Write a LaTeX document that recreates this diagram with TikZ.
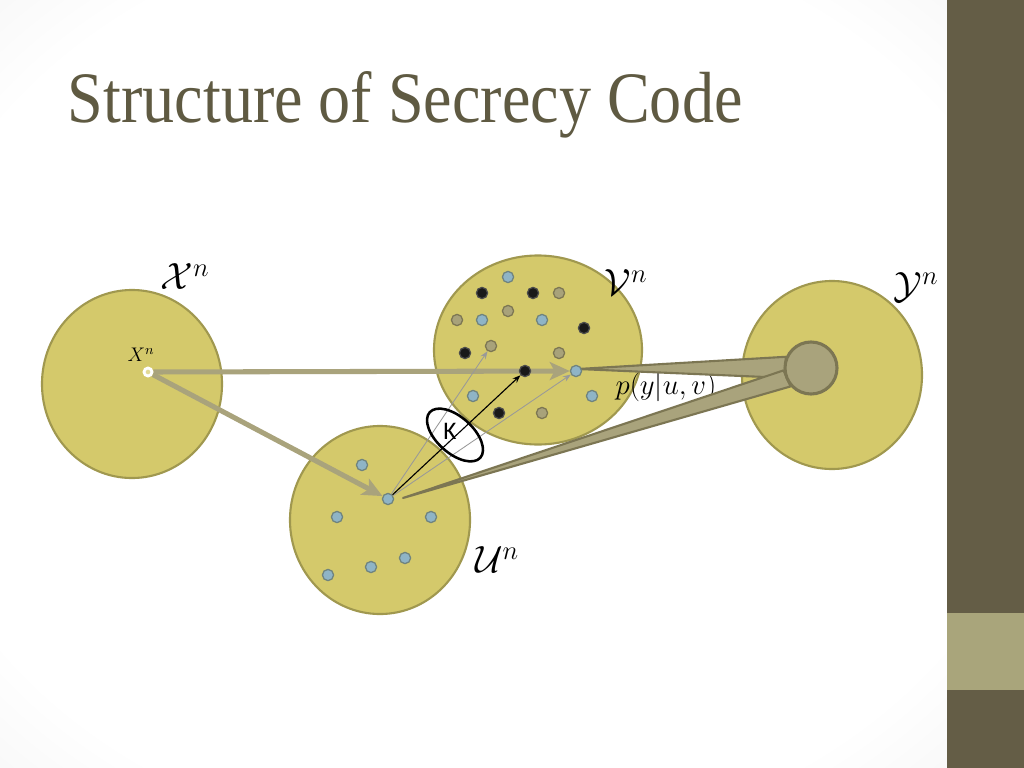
\RequirePackage{fix-cm}
\documentclass[tikz,border=0pt]{standalone}
\usepackage{fontspec}
\newfontfamily\titlefont[FakeStretch=0.885]{Liberation Serif}
\newfontfamily\kfont{Carlito}
\usepackage{tikz}
\usetikzlibrary{arrows.meta,shapes.geometric}

\definecolor{setfill}{HTML}{D4C96B}
\definecolor{setedge}{HTML}{A0984F}
\definecolor{chanfill}{HTML}{A9A37C}
\definecolor{chanedge}{HTML}{7C7653}
\definecolor{dotblue}{HTML}{8FB4C6}
\definecolor{dotgray}{HTML}{A8A27A}
\definecolor{dotrim}{HTML}{6F837E}
\definecolor{titlecol}{HTML}{5F5A42}
\definecolor{sidebar}{HTML}{645D46}
\definecolor{sideband}{HTML}{A9A57B}

\pgfdeclareradialshading{vignette}{\pgfpoint{0bp}{0bp}}{color(0bp)=(white); color(30bp)=(white); color(50bp)=(black!9); color(72bp)=(black!16)}
\pgfdeclarelayer{back}
\pgfdeclarelayer{mid}
\pgfsetlayers{back,mid,main}

\begin{document}
\begin{tikzpicture}[x=0.025cm, y=-0.025cm,
  setbox/.style={ellipse, draw=setedge, fill=setfill, line width=1.5pt, inner sep=0pt},
  setname/.style={font=\fontsize{27pt}{30pt}\selectfont},
  dot/.style={circle, line width=0.9pt, minimum size=0.28cm, inner sep=0pt},
  bluedot/.style={dot, draw=dotrim, fill=dotblue},
  graydot/.style={dot, draw=chanedge, fill=dotgray},
  blackdot/.style={dot, draw=black!70, fill=black!90},
  feed/.style={draw=chanfill, line width=3.6pt, -{Stealth[length=0.5cm, width=0.45cm, inset=0.12cm]}},
  channel/.style={fill=chanfill, draw=chanedge, line width=1.5pt, line join=round},
  thinarrow/.style={draw=black!40, line width=0.6pt, -{Stealth[length=0.2cm, width=0.15cm]}}]
\useasboundingbox (0,0) rectangle (1024,768);

\begin{pgfonlayer}{back}
  \shade[shading=vignette] (0,0) rectangle (947,768);
  \fill[sidebar] (947,0) rectangle (1024,768);
  \fill[sideband] (947,613) rectangle (1024,690);
  % the four sets
  \node[setbox, minimum width=4.5cm, minimum height=4.7cm] (xset) at (132,384) {};
  \node[setbox, minimum width=5.2cm, minimum height=4.725cm] (vset) at (538,350) {};
  \node[setbox, minimum width=4.5cm, minimum height=4.7cm] (uset) at (380,520) {};
  \node[setbox, minimum width=4.5cm, minimum height=4.7cm] (yset) at (832,375) {};
  \node[font=\fontsize{20.5pt}{23pt}\selectfont] (chan) at (666,387) {$p(y|u,v)$};
\end{pgfonlayer}

\node[anchor=base west, text=titlecol, font=\titlefont\fontsize{51.5pt}{60pt}\selectfont] (title) at (63,123) {Structure of Secrecy Code};

% codewords in V
\foreach \px/\py [count=\i] in {508/277, 482/320, 542/320, 576/371, 473/396, 592/396}
  { \node[bluedot] (vb\i) at (\px,\py) {}; }
\foreach \px/\py [count=\i] in {559/293, 508/311, 457/320, 491/346, 559/353, 542/413}
  { \node[graydot] (vg\i) at (\px,\py) {}; }
\foreach \px/\py [count=\i] in {482/293, 533/293, 584/328, 465/353, 525/371, 499/413}
  { \node[blackdot] (vk\i) at (\px,\py) {}; }
% codewords in U
\foreach \px/\py [count=\i] in {362/465, 388/499, 337/517, 431/517, 405/558, 371/567, 328/575}
  { \node[bluedot] (u\i) at (\px,\py) {}; }

\node[circle, draw=white, fill=setfill!70!white, line width=2pt, minimum size=0.2cm, inner sep=0pt] (xn) at (148,372) {};
\node[circle, draw=chanedge, fill=chanfill, line width=2.2pt, minimum size=1.3cm, inner sep=0pt] (ysmall) at (811,368) {};
\coordinate (vtip) at (578,369);
\coordinate (utip) at (403,498);

\begin{pgfonlayer}{mid}
  \filldraw[channel] (vtip) -- (ysmall.156) -- (ysmall.201) -- cycle;
  \filldraw[channel] (utip) -- (ysmall.185) -- (ysmall.222) -- cycle;
  \draw[feed] (xn) -- (vb4);
  \draw[feed] (xn) -- (u2);
\end{pgfonlayer}

\draw[thinarrow] (u2) -- (vg4);
\draw[thinarrow] (u2) -- (vb4);
\draw[thinarrow, draw=black, line width=0.8pt] (u2) -- (vk5);

\node[draw, ellipse, line width=1.8pt, minimum width=1.7cm, minimum height=0.9cm, inner sep=0pt, rotate=-42] (kring) at (455,435) {};
\node[font=\kfont\fontsize{18pt}{20pt}\selectfont, inner sep=0pt] (klabel) at (450,431) {K};

% labels
\node[setname] (xname) at (185,277) {$\mathcal{X}^n$};
\node[setname] (vname) at (626,283) {$\mathcal{V}^n$};
\node[setname] (yname) at (916,287) {$\mathcal{Y}^n$};
\node[setname] (uname) at (497,560) {$\mathcal{U}^n$};
\node[font=\fontsize{14pt}{16pt}\selectfont] (xnname) at (141,355) {$X^n$};
\end{tikzpicture}
\end{document}
